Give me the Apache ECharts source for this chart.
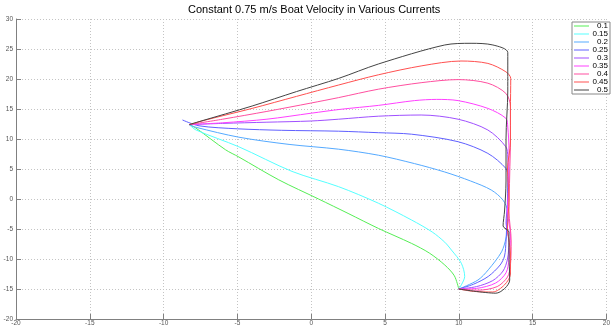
<!DOCTYPE html>
<html>
<head>
<meta charset="utf-8">
<script src="https://cdn.jsdelivr.net/npm/echarts@6/dist/echarts.min.js"></script>
<style>
  html, body { margin: 0; padding: 0; background: #fff; }
  #chart { width: 613px; height: 332px; }
</style>
</head>
<body>
<div id="chart"></div>
<script>
// Boat track (x, y) for each current speed
const currents = ['0.1', '0.15', '0.2', '0.25', '0.3', '0.35', '0.4', '0.45', '0.5'];

const path010 = [[-8.26,12.4],[-7.8,11.8],[-5.8,8.2],[-4.9,7.0],[-2.2,3.2],[0.5,0],[2.5,-2.4],[4.55,-4.9],[6.8,-7.4],[8.0,-9.0],[9.05,-11.0],[9.7,-12.8],[10.0,-15.0]];
const path015 = [[-8.26,12.4],[-7.8,11.5],[-4.9,8.7],[-1.3,4.6],[1.86,2.05],[4.55,-0.7],[6.8,-3.5],[8.2,-5.5],[9.05,-7.2],[9.5,-8.5],[10.17,-10.7],[10.4,-12.9],[10.0,-15.0]];
const path020 = [[-8.26,12.4],[-7.8,11.95],[-4.9,10.3],[-1.5,9.1],[1.86,8.3],[4.55,7.3],[7.0,5.9],[9.05,4.5],[10.8,3.0],[12.2,1.5],[13.0,-0.2],[13.3,-2.1],[13.3,-4.5],[13.2,-6.5],[12.9,-8.8],[12.0,-11.8],[11.3,-13.5],[10.0,-15.0]];
const path025 = [[-8.72,13.17],[-7.6,12.2],[-5.0,11.7],[-2.0,11.45],[1.86,11.3],[4.55,11.05],[6.8,10.8],[9.95,9.55],[11.97,7.6],[13.19,5.1],[13.32,3.7],[13.3,0],[13.25,-4],[13.2,-7],[13.1,-9.5],[12.8,-11],[12.0,-12.9],[11.0,-14.2],[10.0,-15.0]];
const path030 = [[-8.26,12.4],[-6.0,12.6],[-3.0,12.8],[0,13.0],[1.86,13.3],[4.55,13.8],[7.45,14.0],[9.95,13.3],[11.97,11.5],[13.19,8.7],[13.32,7.0],[13.35,3],[13.3,-1],[13.2,-4],[13.4,-7],[13.3,-10],[13.0,-12],[12.3,-13.6],[11.2,-14.6],[10.0,-15.0]];
const path035 = [[-8.26,12.4],[-6.0,12.7],[-3.0,13.3],[0,14.3],[2.0,14.95],[4.55,15.6],[7.0,16.4],[8.5,16.6],[9.95,16.4],[11.97,15.1],[13.19,13.45],[13.32,12.0],[13.4,8],[13.4,3],[13.3,-2],[13.5,-6],[13.4,-10],[13.2,-12.3],[12.5,-14.0],[11.2,-14.9],[10.0,-15.0]];
const path040 = [[-8.26,12.4],[-6.0,13.3],[-3.0,14.6],[0,16.0],[1.86,16.9],[4.55,18.3],[7.5,19.4],[9.95,19.9],[11.97,19.3],[13.19,17.6],[13.5,15.4],[13.5,10],[13.45,4],[13.4,-2],[13.55,-7],[13.5,-11],[13.3,-13],[12.6,-14.6],[11.3,-15.2],[10.0,-15.0]];
const path045 = [[-8.26,12.4],[-7.14,13.17],[-4.0,15.1],[-1.0,17.1],[1.86,19.0],[4.55,20.7],[7.5,22.2],[10.15,23.0],[11.97,22.6],[13.19,21.2],[13.52,20.1],[13.5,15],[13.5,9.5],[13.3,5],[13.4,0],[13.3,-5],[13.5,-9],[13.5,-12.5],[13.1,-14.3],[12.3,-15.5],[11.0,-15.4],[10.0,-15.0]];
const path050 = [[-8.26,12.4],[-7.59,12.9],[-4.0,15.5],[-1.0,17.9],[1.86,20.1],[4.55,22.5],[9.05,25.67],[10.83,25.95],[12.31,25.67],[13.32,24.4],[13.32,18],[13.2,10],[13.2,3],[13.1,-2],[13.0,-4.5],[13.4,-5.5],[13.4,-9],[13.45,-13.5],[12.51,-15.7],[10.0,-15.0]];

const paths = [path010, path015, path020, path025, path030, path035, path040, path045, path050];
const colors = ['#55ee55', '#55ffff', '#55aaff', '#6060ff', '#a050ff', '#ff40ff', '#ff4fa0', '#ff5050', '#444444'];

const xTicks = { min: -20, max: 20, step: 5 };
const yTicks = { min: -20, max: 30, step: 5 };

const axisCommon = {
  type: 'value',
  axisLine: { show: true, onZero: false, lineStyle: { color: '#808080', width: 1 } },
  axisTick: { show: true, inside: true, length: 5, lineStyle: { color: '#808080' } },
  axisLabel: { fontSize: 6.5, color: '#555', fontFamily: 'Liberation Sans, Arial, sans-serif' },
  splitLine: { show: true, lineStyle: { type: [1, 2], color: '#c4c4c4', width: 1 } }
};

const chart = echarts.init(document.getElementById('chart'), null, { renderer: 'canvas' });
chart.setOption({
  animation: false,
  backgroundColor: '#fff',
  title: {
    text: 'Constant 0.75 m/s Boat Velocity in Various Currents',
    left: 188,
    top: 4,
    padding: 0,
    textStyle: { fontSize: 11, fontWeight: 'normal', color: '#000', fontFamily: 'Liberation Sans, Arial, sans-serif' }
  },
  grid: { left: 16, right: 4, top: 19, bottom: 13, containLabel: false },
  xAxis: Object.assign({}, axisCommon, {
    min: xTicks.min, max: xTicks.max, interval: xTicks.step,
    axisLabel: Object.assign({}, axisCommon.axisLabel, { margin: 1 })
  }),
  yAxis: Object.assign({}, axisCommon, {
    min: yTicks.min, max: yTicks.max, interval: yTicks.step,
    axisLabel: Object.assign({}, axisCommon.axisLabel, { margin: 3 })
  }),
  legend: {
    orient: 'vertical',
    left: 572,
    top: 22,
    padding: [0, 2, 0, 2],
    itemGap: 0,
    itemWidth: 15,
    itemHeight: 1,
    icon: 'rect',
    selectedMode: false,
    backgroundColor: '#fff',
    borderColor: '#888',
    borderWidth: 1,
    formatter: '{a|{name}}',
    textStyle: {
      rich: {
        a: { width: 14, align: 'right', fontSize: 8, lineHeight: 10, color: '#000', fontFamily: 'Liberation Sans, Arial, sans-serif' }
      }
    },
    data: currents
  },
  series: currents.map((name, i) => ({
    name: name,
    type: 'line',
    data: paths[i],
    showSymbol: false,
    symbol: 'none',
    smooth: 0.3,
    color: colors[i],
    lineStyle: { width: 1, color: colors[i] }
  }))
});
</script>
</body>
</html>
